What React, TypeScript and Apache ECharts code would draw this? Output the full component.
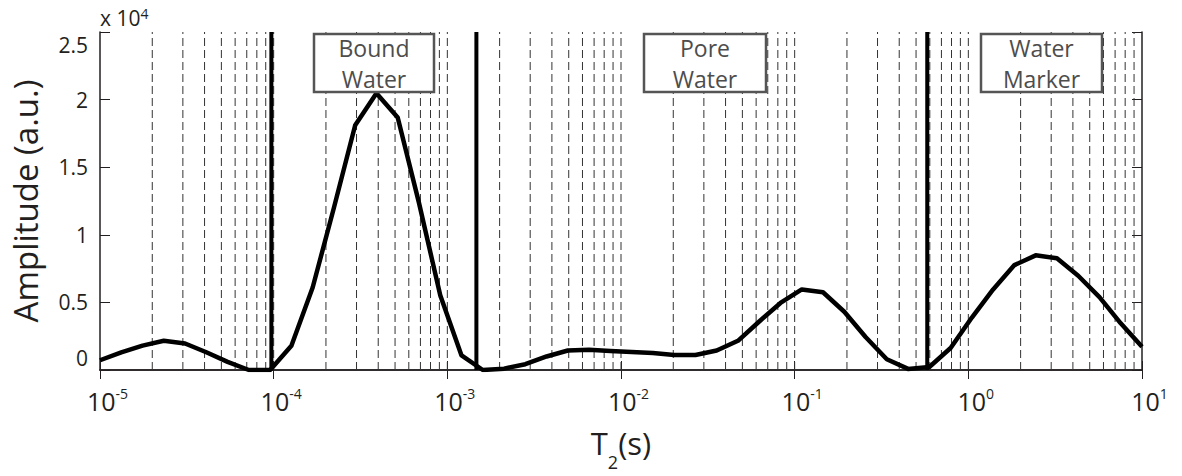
import React, { useEffect, useRef } from 'react';
import * as echarts from 'echarts';

// T2 relaxation times (s), sampled evenly on a log scale
const T2 = [
  1.0e-5, 1.326e-5, 1.758e-5, 2.33e-5, 3.089e-5, 4.095e-5, 5.429e-5, 7.197e-5, 9.541e-5,
  1.265e-4, 1.677e-4, 2.223e-4, 2.947e-4, 3.907e-4, 5.179e-4, 6.866e-4, 9.103e-4,
  1.207e-3, 1.6e-3, 2.121e-3, 2.812e-3, 3.728e-3, 4.942e-3, 6.551e-3, 8.685e-3,
  1.151e-2, 1.526e-2, 2.024e-2, 2.683e-2, 3.556e-2, 4.715e-2, 6.251e-2, 8.286e-2,
  0.1099, 0.1456, 0.1931, 0.256, 0.3393, 0.4498, 0.5964, 0.7906,
  1.048, 1.389, 1.842, 2.442, 3.237, 4.292, 5.69, 7.543, 10,
];

// Amplitude (a.u.)
const AMPLITUDE = [
  720, 1310, 1800, 2160, 1960, 1310, 600, 0, 0,
  1800, 6100, 12000, 18100, 20470, 18680, 12360, 5530,
  1080, 0, 100, 430, 1000, 1440, 1490, 1400,
  1330, 1260, 1110, 1110, 1440, 2160, 3590, 4960,
  5960, 5750, 4310, 2440, 790, 80, 220, 1630,
  3880, 5960, 7760, 8480, 8260, 6970, 5390, 3450, 1720,
];

// Region boundaries (s)
const BOUNDARIES = [9.7e-5, 1.47e-3, 0.58];

// Dashed grid lines: mantissas x decades
const GRID_DECADES = [-5, -4, -3, -2, -1, 0];
const GRID_MANTISSAS = [1, 2, 3, 4, 5, 6, 7, 8, 9];

const X_MIN = 1e-5;
const X_MAX = 10;
const Y_MIN = 0;
const Y_MAX = 25000;
const Y_STEP = 5000;
const Y_SCALE = 10000;

const REGION_LABELS = ['Bound\nWater', 'Pore\nWater', 'Water\nMarker'];
const REGION_BOXES = [
  { x: 314, y: 34, w: 120, h: 58 },
  { x: 644, y: 34, w: 122, h: 58 },
  { x: 981, y: 34, w: 121, h: 58 },
];

const FONT = '"Open Sans", "Noto Sans", sans-serif';
const INK = '#231f20';

export default function App() {
  const ref = useRef<HTMLDivElement>(null);

  useEffect(() => {
    if (!ref.current) return;
    const chart = echarts.init(ref.current, null, { renderer: 'svg' });

    const gridValues: number[] = [];
    GRID_DECADES.forEach((e) => {
      GRID_MANTISSAS.forEach((m) => {
        const v = Number((m * Math.pow(10, e)).toPrecision(3));
        if (v > X_MIN && v < X_MAX) gridValues.push(v);
      });
    });

    const data = T2.map((t, i) => [t, AMPLITUDE[i]]);

    const xLabelFormatter = (v: number) => {
      const e = Math.round(Math.log10(v));
      return '{b|10}{s|' + e + '}';
    };

    const verticalLine = (style: any) => (params: any, api: any) => {
      const v = api.value(0);
      const p0 = api.coord([v, Y_MIN]);
      const p1 = api.coord([v, Y_MAX]);
      return {
        type: 'line',
        shape: { x1: p0[0], y1: p0[1], x2: p1[0], y2: p1[1] },
        style,
      };
    };

    const option: any = {
      animation: false,
      grid: { left: 100, right: 40, top: 32, bottom: 96, containLabel: false },
      xAxis: [
        {
          type: 'log',
          logBase: 10,
          min: X_MIN,
          max: X_MAX,
          position: 'bottom',
          axisLine: { show: true, lineStyle: { color: INK, width: 1.5 } },
          axisTick: { show: true, inside: true, length: 9, lineStyle: { color: INK, width: 1 } },
          splitLine: { show: false },
          axisLabel: {
            margin: 16,
            formatter: xLabelFormatter,
            rich: {
              b: { fontFamily: FONT, fontSize: 25, color: INK, padding: [0, 0, 0, 15] },
              s: { fontFamily: FONT, fontSize: 14, color: INK, padding: [0, 0, 16, 0] },
            },
          },
          name: '{t|T}{sub|2}{t|(s)}',
          nameLocation: 'middle',
          nameGap: 44,
          nameTextStyle: {
            rich: {
              t: { fontFamily: FONT, fontSize: 31, color: INK },
              sub: { fontFamily: FONT, fontSize: 18, color: INK, padding: [39, 0, 0, 0] },
            },
          },
        },
        {
          type: 'log',
          logBase: 10,
          min: X_MIN,
          max: X_MAX,
          position: 'top',
          axisLine: { show: true, lineStyle: { color: INK, width: 1.5 } },
          axisTick: { show: true, inside: true, length: 9, lineStyle: { color: INK, width: 1 } },
          axisLabel: { show: false },
          splitLine: { show: false },
        },
      ],
      yAxis: [
        {
          type: 'value',
          min: Y_MIN,
          max: Y_MAX,
          interval: Y_STEP,
          position: 'left',
          axisLine: { show: true, lineStyle: { color: INK, width: 1.5 } },
          axisTick: { show: true, inside: true, length: 10, lineStyle: { color: INK, width: 1 } },
          splitLine: { show: false },
          axisLabel: {
            margin: 12,
            fontFamily: FONT,
            fontSize: 21,
            lineHeight: 25,
            color: INK,
            formatter: (v: number) => {
              const s = String(v / Y_SCALE);
              if (v === Y_MIN) return s + '\n\u00a0';
              if (v === Y_MAX) return '\u00a0\n' + s;
              return s;
            },
          },
          name: '{a|x 10}{s|4}',
          nameLocation: 'end',
          nameGap: 2,
          nameTextStyle: {
            align: 'left',
            verticalAlign: 'bottom',
            rich: {
              a: { fontFamily: FONT, fontSize: 21, color: INK },
              s: { fontFamily: FONT, fontSize: 14, color: INK, padding: [0, 0, 10, 0] },
            },
          },
        },
        {
          type: 'value',
          min: Y_MIN,
          max: Y_MAX,
          interval: Y_STEP,
          position: 'right',
          axisLine: { show: true, lineStyle: { color: INK, width: 1.5 } },
          axisTick: { show: true, inside: true, length: 10, lineStyle: { color: INK, width: 1 } },
          axisLabel: { show: false },
          splitLine: { show: false },
        },
        {
          type: 'value',
          min: Y_MIN,
          max: Y_MAX,
          position: 'left',
          axisLine: { show: false },
          axisTick: { show: false },
          axisLabel: { show: false },
          splitLine: { show: false },
          name: 'Amplitude (a.u.)',
          nameLocation: 'middle',
          nameGap: 58,
          nameTextStyle: { fontFamily: FONT, fontSize: 33, color: INK },
        },
      ],
      series: [
        {
          name: 'grid',
          type: 'custom',
          data: gridValues.map((v) => [v, Y_MIN]),
          silent: true,
          z: 1,
          renderItem: verticalLine({ stroke: '#333', lineWidth: 1, lineDash: [8, 4] }),
        },
        {
          name: 'Amplitude',
          type: 'line',
          data,
          symbol: 'none',
          z: 3,
          lineStyle: { color: '#000', width: 4.5, join: 'round' },
        },
        {
          name: 'boundaries',
          type: 'custom',
          data: BOUNDARIES.map((v) => [v, Y_MIN]),
          silent: true,
          z: 4,
          renderItem: verticalLine({ stroke: '#000', lineWidth: 4 }),
        },
      ],
      graphic: REGION_LABELS.map((label, i) => {
        const b = REGION_BOXES[i];
        return {
          type: 'group',
          z: 100,
          children: [
            {
              type: 'rect',
              z: 100,
              shape: { x: b.x, y: b.y, width: b.w, height: b.h },
              style: { fill: '#fff', stroke: '#555', lineWidth: 2.5 },
            },
            {
              type: 'text',
              z: 101,
              x: b.x + b.w / 2,
              y: b.y + b.h / 2,
              style: {
                text: label,
                align: 'center',
                verticalAlign: 'middle',
                fontFamily: FONT,
                fontSize: 23,
                lineHeight: 31,
                fill: '#4d4d4d',
              },
            },
          ],
        };
      }),
    };

    chart.setOption(option);
    return () => chart.dispose();
  }, []);

  return (
    <div
      ref={ref}
      style={{ position: 'fixed', left: 0, top: 0, width: 1182, height: 476, background: '#fff' }}
    />
  );
}
